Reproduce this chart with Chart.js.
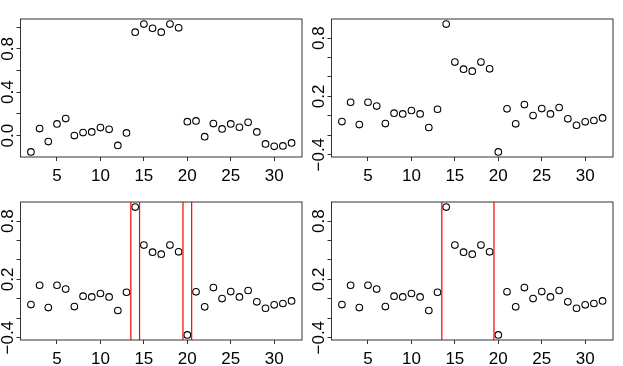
<!DOCTYPE html>
<html>
<head>
<meta charset="utf-8">
<script src="https://cdn.jsdelivr.net/npm/chart.js@4/dist/chart.umd.min.js"></script>
<style>
  body { margin: 0; background: #fff; }
  #wrap { position: relative; width: 623px; height: 366px; background: #fff; }
  canvas { position: absolute; }
</style>
</head>
<body>
<div id="wrap">
  <canvas id="c1" width="312" height="183" style="left:0;top:0"></canvas>
  <canvas id="c2" width="312" height="183" style="left:311px;top:0"></canvas>
  <canvas id="c3" width="312" height="183" style="left:0;top:183px"></canvas>
  <canvas id="c4" width="312" height="183" style="left:311px;top:183px"></canvas>
</div>
<script>
// index 2..32
const xs = [2, 3, 4, 5, 6, 7, 8, 9, 10, 11, 12, 13, 14, 15, 16, 17, 18, 19, 20, 21, 22, 23, 24, 25, 26, 27, 28, 29, 30, 31, 32];

// top-left panel
const seriesA = [-0.15, 0.065, -0.055, 0.108, 0.157, 0.0, 0.028, 0.034, 0.074, 0.058, -0.09, 0.025,
  0.954, 1.028, 0.99, 0.954, 1.028, 0.994,
  0.129, 0.135, -0.01, 0.111, 0.062, 0.108, 0.077, 0.123, 0.034, -0.077, -0.099, -0.095, -0.067];

// other three panels share this series
const seriesB = [-0.059, 0.14, -0.09, 0.14, 0.10, -0.08, 0.027, 0.02, 0.055, 0.02, -0.12, 0.068,
  0.944, 0.553, 0.48, 0.46, 0.553, 0.484,
  -0.371, 0.072, -0.082, 0.116, 0.003, 0.075, 0.02, 0.086, -0.031, -0.097, -0.062, -0.048, -0.021];

const xTicks = [5, 10, 15, 20, 25, 30];
const yTicksA = [0, 0.2, 0.4, 0.6, 0.8, 1.0];
const yLabelsA = [0, 0.4, 0.8];
const yTicksB = [-0.4, -0.2, 0, 0.2, 0.4, 0.6, 0.8];
const yLabelsB = [-0.4, 0.2, 0.8];

// red vertical lines
const cutsC = [13.5, 14.5, 19.5, 20.5];
const cutsD = [13.5, 19.5];

const FONT = '"Liberation Sans", Arial, Helvetica, sans-serif';
const AXIS_COL = '#333';

function fmtTick(v) {
  return v.toFixed(1).replace('-', '\u2212');
}

// R-style range: data range widened by 4% on each side
function padRange(vals) {
  const lo = Math.min(...vals), hi = Math.max(...vals);
  const d = (hi - lo) * 0.04;
  return [lo - d, hi + d];
}

function makePanel(id, values, yTicks, yLabels, cuts) {
  const [xMin, xMax] = padRange(xs);
  const [yMin, yMax] = padRange(values);

  const datasets = [];
  (cuts || []).forEach(c => {
    datasets.push({
      data: [{ x: c, y: yMin }, { x: c, y: yMax }],
      showLine: true,
      borderColor: '#ff0000',
      borderWidth: 1.2,
      pointRadius: 0,
    });
  });
  datasets.push({
    data: xs.map((x, i) => ({ x: x, y: values[i] })),
    pointRadius: 3.3,
    pointBorderWidth: 1.1,
    pointBorderColor: '#000',
    pointBackgroundColor: 'rgba(0,0,0,0)',
  });

  // box round the plot area and rotated y labels
  const frame = {
    id: 'frame',
    afterDraw(chart) {
      const { ctx, chartArea: a } = chart;
      const y = chart.scales.y;
      ctx.save();
      ctx.strokeStyle = AXIS_COL;
      ctx.lineWidth = 1;
      ctx.strokeRect(a.left, a.top, a.right - a.left, a.bottom - a.top);
      ctx.fillStyle = '#000';
      ctx.font = '17px ' + FONT;
      ctx.textAlign = 'center';
      ctx.textBaseline = 'alphabetic';
      yLabels.forEach(v => {
        ctx.save();
        ctx.translate(13, y.getPixelForValue(v));
        ctx.rotate(-Math.PI / 2);
        ctx.fillText(fmtTick(v), 0, 0);
        ctx.restore();
      });
      ctx.restore();
    },
  };

  return new Chart(document.getElementById(id), {
    type: 'scatter',
    data: { datasets },
    options: {
      responsive: false,
      animation: false,
      layout: { padding: { top: 19, right: 10, left: 0, bottom: 0 } },
      plugins: { legend: { display: false }, tooltip: { enabled: false } },
      scales: {
        x: {
          type: 'linear',
          min: xMin,
          max: xMax,
          afterBuildTicks: s => { s.ticks = xTicks.map(v => ({ value: v })); },
          afterFit: s => { s.height = 26; },
          border: { display: false },
          grid: { drawOnChartArea: false, drawTicks: true, tickLength: 4, tickColor: AXIS_COL },
          ticks: {
            autoSkip: false,
            maxRotation: 0,
            padding: 5,
            color: '#000',
            font: { family: FONT, size: 17 },
            callback: v => String(v),
          },
        },
        y: {
          type: 'linear',
          min: yMin,
          max: yMax,
          afterBuildTicks: s => { s.ticks = yTicks.map(v => ({ value: v })); },
          afterFit: s => { s.width = 20.5; },
          border: { display: false },
          grid: { drawOnChartArea: false, drawTicks: true, tickLength: 4, tickColor: AXIS_COL },
          ticks: { display: false },
        },
      },
    },
    plugins: [frame],
  });
}

makePanel('c1', seriesA, yTicksA, yLabelsA, null);
makePanel('c2', seriesB, yTicksB, yLabelsB, null);
makePanel('c3', seriesB, yTicksB, yLabelsB, cutsC);
makePanel('c4', seriesB, yTicksB, yLabelsB, cutsD);
</script>
</body>
</html>
